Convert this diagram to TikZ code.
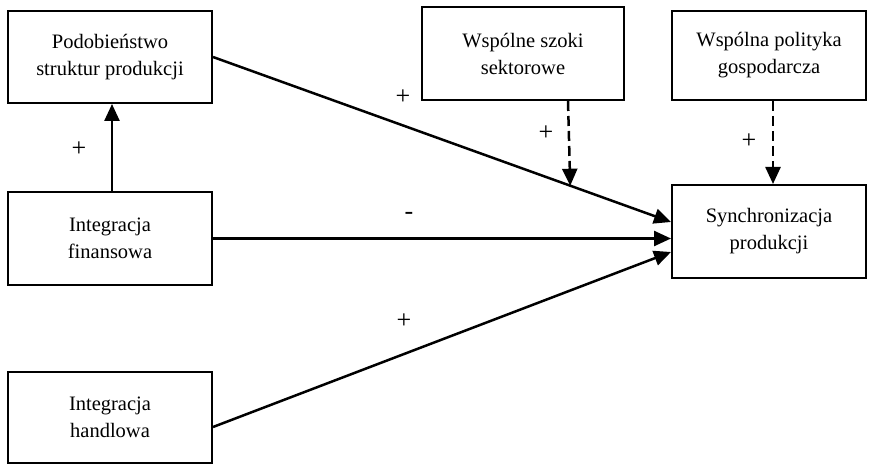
\documentclass[tikz,border=0pt]{standalone}
\usepackage{fontspec}
\setmainfont{Liberation Serif}
\usetikzlibrary{arrows.meta}
\tikzset{
  box/.style={draw, line width=2pt, rectangle, align=center, inner sep=0pt,
    font=\fontsize{20.5}{27}\selectfont},
  arr/.style={line width=2.5pt, -{Triangle[length=17pt,width=15pt]}},
  darr/.style={arr, dash pattern=on 10pt off 5pt},
  lbl/.style={font=\fontsize{26}{28}\selectfont, inner sep=0pt}
}
\begin{document}
\begin{tikzpicture}[x=1pt,y=-1pt]
\useasboundingbox (0,0) rectangle (870,465);
\node[box, minimum width=204pt, minimum height=92pt] (pod) at (110,57) {Podobieństwo\\struktur produkcji};
\node[box, minimum width=202pt, minimum height=93pt] (szo) at (523,53.5) {Wspólne szoki\\sektorowe};
\node[box, minimum width=194pt, minimum height=89pt] (pol) at (769,55.5) {Wspólna polityka\\gospodarcza};
\node[box, minimum width=204pt, minimum height=93pt] (fin) at (110,238.5) {Integracja\\finansowa};
\node[box, minimum width=194pt, minimum height=93pt] (syn) at (769,231.5) {Synchronizacja\\produkcji};
\node[box, minimum width=204pt, minimum height=91pt] (han) at (110,417.5) {Integracja\\handlowa};

\draw[arr] (pod.east) -- ([yshift=9.5pt]syn.west);
\path (pod.east) -- ([yshift=9.5pt]syn.west) coordinate[pos=0.78] (d1);
\draw[arr] (fin.east) -- (fin.east -| syn.west);
\draw[arr] ([yshift=-9.5pt]han.east) -- ([yshift=-20.5pt]syn.west);
\draw[arr] ([xshift=2pt]fin.north) -- ([xshift=2pt]pod.south);
\draw[darr] ([xshift=45pt]szo.south) -- (d1);
\draw[darr] ([xshift=4pt]pol.south) -- ([xshift=4pt]syn.north);

\node[lbl] (l1) at (403,97) {+};
\node[lbl] (l2) at (546,133) {+};
\node[lbl] (l3) at (749,141) {+};
\node[lbl] (l4) at (79,149) {+};
\node[lbl] (l5) at (409,216) {-};
\node[lbl] (l6) at (404,321) {+};
\end{tikzpicture}
\end{document}
